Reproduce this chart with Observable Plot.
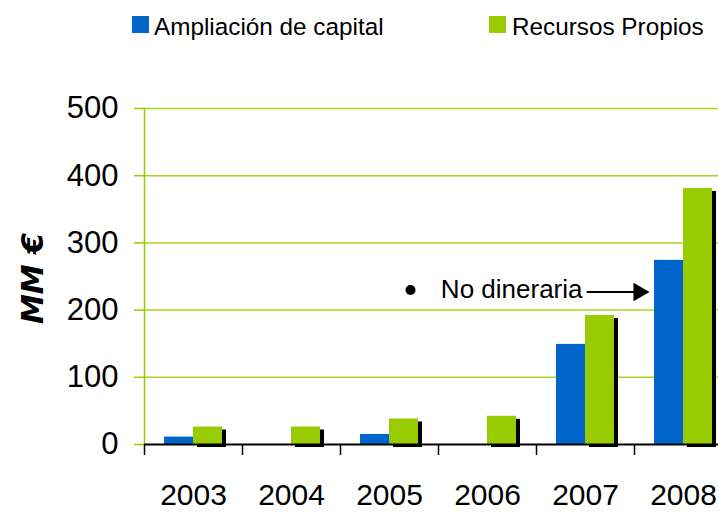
<!DOCTYPE html>
<html>
<head>
<meta charset="utf-8">
<script src="https://cdn.jsdelivr.net/npm/d3@7"></script>
<script src="https://cdn.jsdelivr.net/npm/@observablehq/plot@0.6"></script>
<style>
  html, body { margin: 0; padding: 0; background: #fff; }
  #wrap { width: 718px; height: 512px; position: relative; overflow: hidden; font-family: "Liberation Sans", Arial, sans-serif; }
  #legend { position: relative; width: 718px; height: 50px; }
  #legend .sw { position: absolute; top: 16px; width: 17px; height: 17px; }
  #legend .lb { position: absolute; top: 14px; font-size: 24.3px; line-height: 25px; color: #000; white-space: nowrap; }
</style>
</head>
<body>
<div id="wrap">
  <div id="legend"></div>
  <div id="chart"></div>
</div>
<script>
// ---- data ----
const years = ["2003", "2004", "2005", "2006", "2007", "2008"];
const seriesNames = ["Ampliación de capital", "Recursos Propios"];
const ampliacion = [11, 0, 15, 0, 149, 274];
const recursos = [26, 26, 38, 42, 192, 381];
const yTicks = [0, 100, 200, 300, 400, 500];
const yLabel = "MM €";
const noteText = "No dineraria";
const noteYear = "2007";
const noteArrowTo = "2008";
const noteValue = 227;

// ---- styles ----
const blue = "#0066cc";
const green = "#99cc00";

// ---- legend (HTML above the SVG) ----
const legend = document.getElementById("legend");
const legendItems = [
  {name: seriesNames[0], color: blue, sw: 132, lb: 154},
  {name: seriesNames[1], color: green, sw: 489, lb: 512}
];
for (const it of legendItems) {
  const s = document.createElement("div");
  s.className = "sw"; s.style.left = it.sw + "px"; s.style.background = it.color;
  legend.appendChild(s);
  const t = document.createElement("div");
  t.className = "lb"; t.style.left = it.lb + "px"; t.textContent = it.name;
  legend.appendChild(t);
}

// ---- table ----
const rows = years.map((y, i) => ({year: y, amp: ampliacion[i], rec: recursos[i]}));
const note = [{year: noteYear, to: noteArrowTo, value: noteValue, label: noteText}];

const chart = Plot.plot({
  width: 718,
  height: 462,
  marginTop: 58,
  marginBottom: 68,
  marginLeft: 144,
  marginRight: 0,
  style: {fontFamily: "Liberation Sans, Arial, sans-serif", color: "#000", background: "#fff"},
  x: {type: "band", domain: years, range: [144, 732], padding: 0, label: null},
  y: {domain: [0, 500], label: null},
  marks: [
    // grid lines
    Plot.ruleY(yTicks.slice(1), {stroke: green, strokeWidth: 1.5, strokeOpacity: 0.85}),
    // y axis line
    Plot.ruleX([years[0]], {x: d => d, dx: -49, stroke: green, strokeWidth: 1.5}),
    Plot.axisY({ticks: yTicks, tickSize: 10, tickPadding: 16, stroke: green, strokeWidth: 1.5, fill: "#000", fontSize: 31, label: null}),
    // shadows
    Plot.barY(rows, {x: "year", y: "rec", fill: "#000", insetLeft: 53, insetRight: 16, dy: 3}),
    // bars
    Plot.barY(rows, {x: "year", y: "amp", fill: blue, insetLeft: 20, insetRight: 49}),
    Plot.barY(rows, {x: "year", y: "rec", fill: green, insetLeft: 49, insetRight: 20}),
    // baseline
    Plot.ruleY([0], {stroke: "#000", strokeWidth: 2}),
    // x ticks at band boundaries
    Plot.axisX({tickSize: 11, tickFormat: () => "", dx: -49, stroke: "#000", strokeWidth: 1.5, label: null}),
    // x labels
    Plot.axisX({tickSize: 0, tickPadding: 39, fontSize: 30, fill: "#000", label: null}),
    // y label
    Plot.text([yLabel], {frameAnchor: "left", textAnchor: "middle", lineAnchor: "middle", dx: -111, dy: 2, rotate: -90, text: d => d, fontSize: 30, fontWeight: "bold", fontStyle: "italic", fontFamily: "DejaVu Sans", fill: "#000"}),
    // annotation
    Plot.text(note, {x: "year", y: "value", text: "label", textAnchor: "end", dx: -3, dy: -2, fontSize: 26, fill: "#000"}),
    Plot.dot(note, {x: "year", y: "value", dx: -175, dy: -2, r: 5, fill: "#000"}),
    Plot.arrow(note, {x1: "year", x2: "to", y1: "value", y2: "value", insetStart: 2, insetEnd: 50, headLength: 0, stroke: "#000", strokeWidth: 2}),
    Plot.dot(note, {x: "to", y: "value", dx: -44.7, symbol: "triangle", rotate: 90, r: 6.9, fill: "#000", stroke: "none"})
  ]
});
document.getElementById("chart").appendChild(chart);
</script>
</body>
</html>
